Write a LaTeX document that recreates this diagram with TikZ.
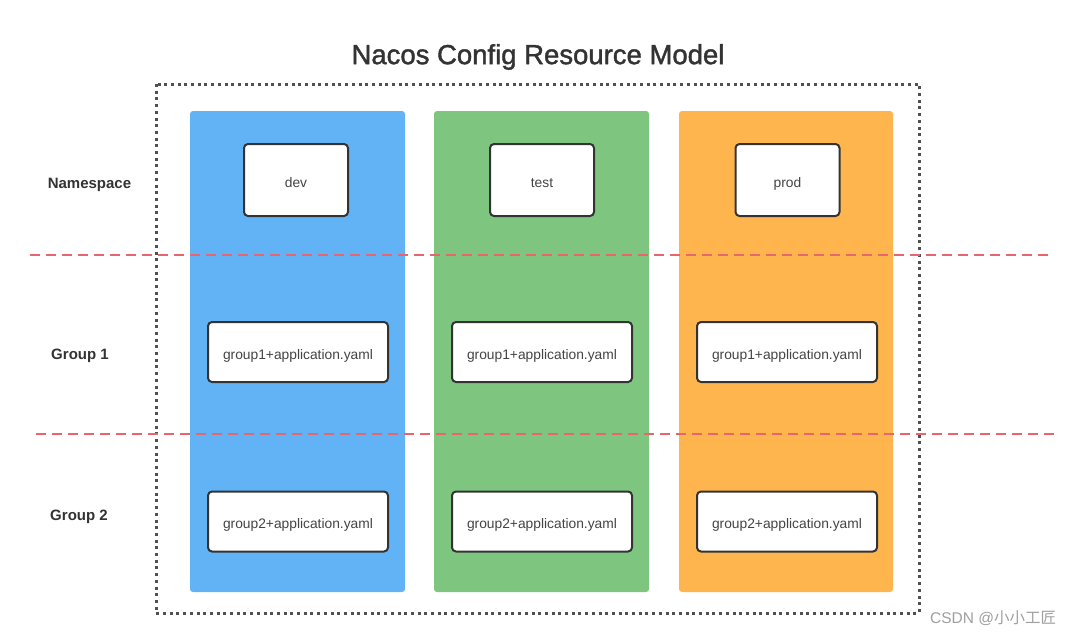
\documentclass[tikz,border=0pt]{standalone}
\usepackage{fontspec}
\setmainfont{Liberation Sans}
\newfontfamily\titlefont[FakeBold=1.5]{Liberation Sans}
\newfontfamily\cjkfont{Noto Sans CJK SC}
\definecolor{colblue}{HTML}{62B3F6}
\definecolor{colgreen}{HTML}{7EC680}
\definecolor{colorange}{HTML}{FFB54D}
\definecolor{dashred}{HTML}{E8656C}
\definecolor{boxline}{HTML}{333333}
\definecolor{frameline}{HTML}{505050}
\definecolor{txtgray}{HTML}{444444}
\begin{document}
\begin{tikzpicture}[x=1pt,y=-1pt,
  nsbox/.style={draw=boxline,line width=2pt,fill=white,rounded corners=4pt,
    minimum width=104pt,minimum height=72pt,inner sep=0pt,text height=14pt,text depth=0pt,
    font=\fontsize{13.8}{16}\selectfont,text=txtgray},
  grpbox/.style={nsbox,minimum width=180pt,minimum height=60pt},
  rowlabel/.style={font=\bfseries\fontsize{15}{18}\selectfont,text=boxline},
  sepline/.style={draw=dashred,line width=1.5pt,dash pattern=on 10pt off 6pt},
]
\useasboundingbox (0,0) rectangle (1082,637);
\fill[white] (0,0) rectangle (1082,637);
% title
\node (title) at (538,57) {\titlefont\fontsize{27.5}{32}\selectfont\color{boxline}Nacos Config Resource Model};
% outer dotted frame
\draw[line width=3pt,frameline,dash pattern=on 3pt off 3.7pt] (156,84) rectangle (919,613);
% columns
\fill[colblue,rounded corners=3pt] (190,111) rectangle (405,592);
\fill[colgreen,rounded corners=3pt] (434,111) rectangle (649,592);
\fill[colorange,rounded corners=3pt] (679,111) rectangle (893,592);
% separators
\coordinate (s1a) at (30,255); \coordinate (s1b) at (1052,255);
\coordinate (s2a) at (36,434); \coordinate (s2b) at (1058,434);
\draw[sepline] (s1a) -- (s1b);
\draw[sepline] (s2a) -- (s2b);
% row labels
\node[rowlabel] (lns) at (89.5,185) {Namespace};
\node[rowlabel] (lg1) at (80,356) {Group 1};
\node[rowlabel] (lg2) at (79,517) {Group 2};
% namespace boxes
\node[nsbox] (dev) at (296,180) {dev};
\node[nsbox] (test) at (542,180) {test};
\node[nsbox] (prod) at (787.5,180) {prod};
% group boxes
\node[grpbox] (d1) at (298,352) {group1+application.yaml};
\node[grpbox] (t1) at (542,352) {group1+application.yaml};
\node[grpbox] (p1) at (787,352) {group1+application.yaml};
\node[grpbox] (d2) at (298,521.5) {group2+application.yaml};
\node[grpbox] (t2) at (542,521.5) {group2+application.yaml};
\node[grpbox] (p2) at (787,521.5) {group2+application.yaml};
% watermark
\node[anchor=west,text=gray!75,font=\fontsize{15.5}{18}\selectfont,inner sep=0pt] (wm) at (930,618) {CSDN @{\cjkfont 小小工匠}};
\end{tikzpicture}
\end{document}
